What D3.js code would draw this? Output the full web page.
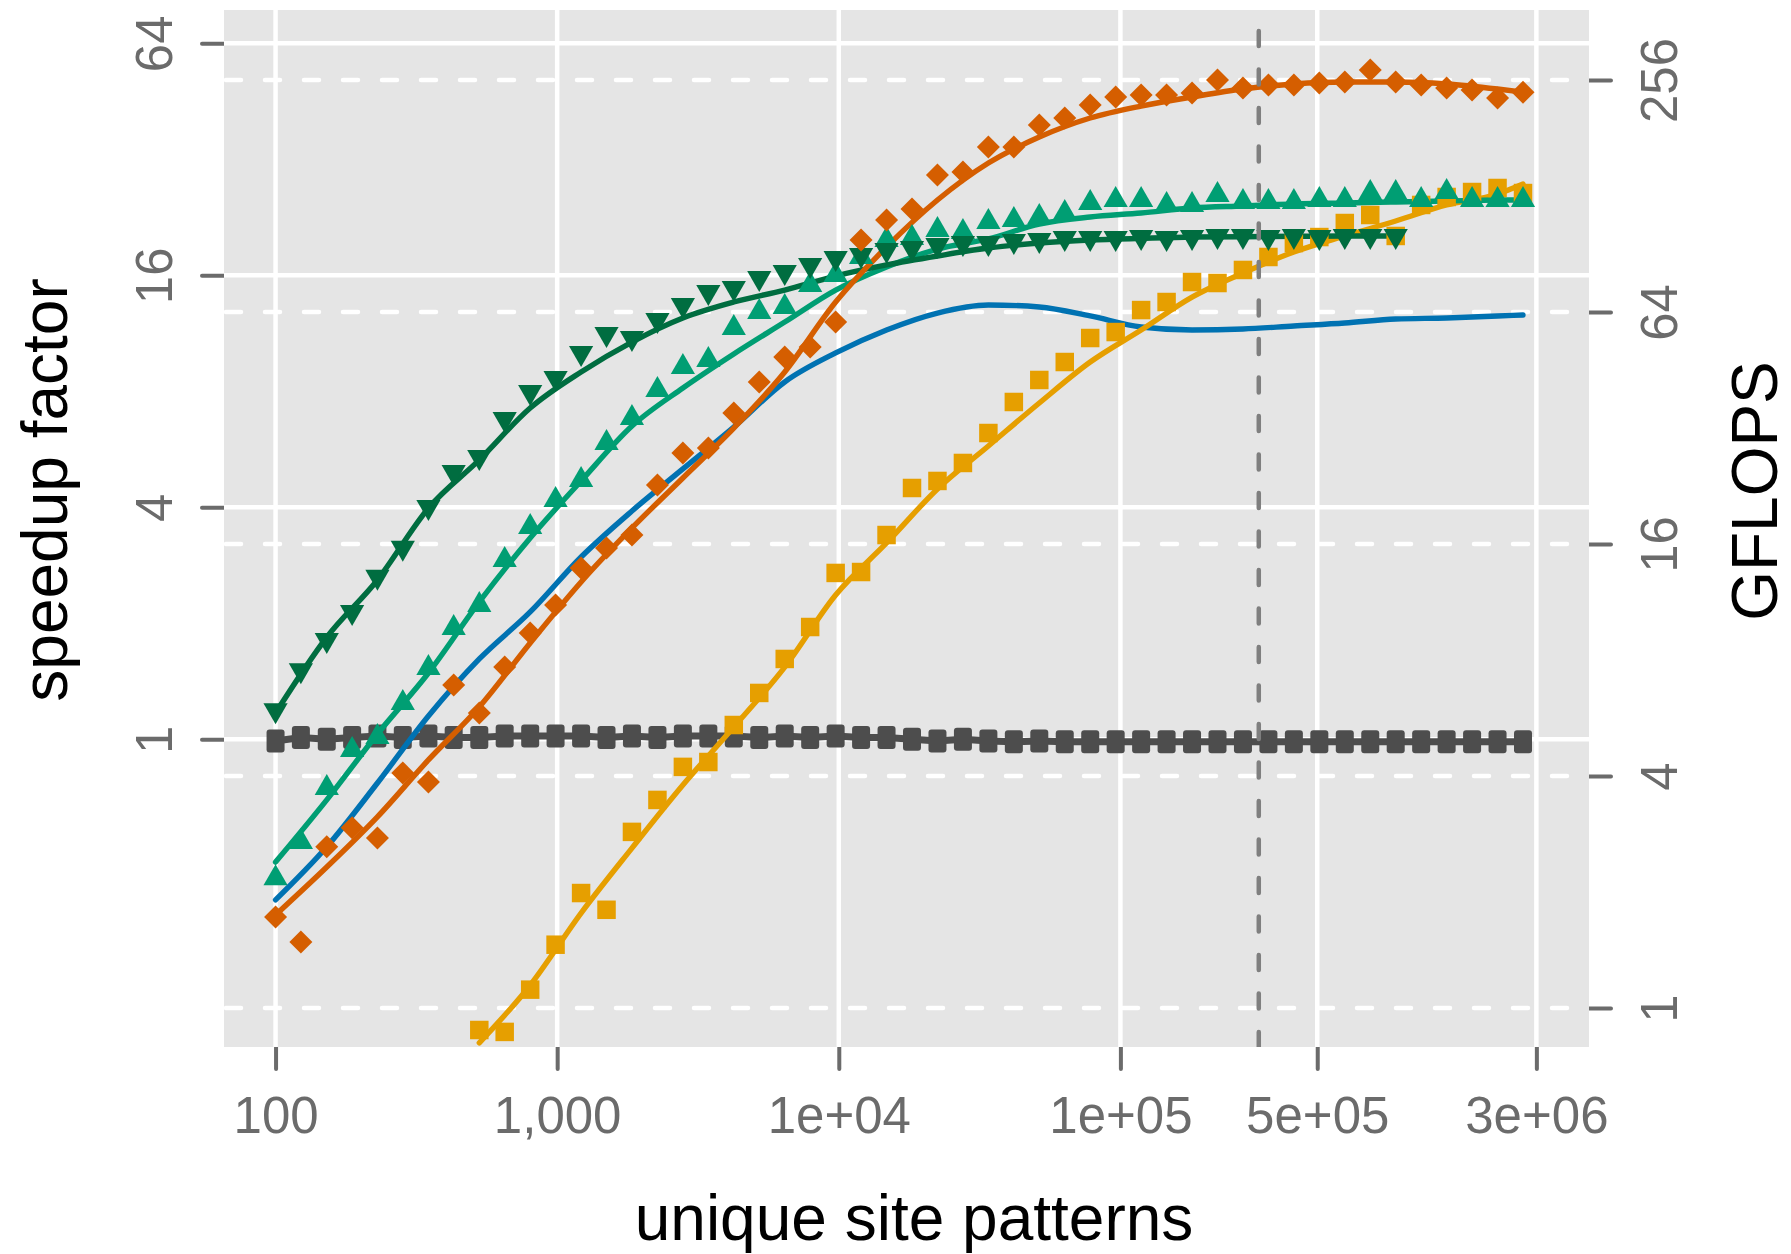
<!DOCTYPE html>
<html>
<head>
<meta charset="utf-8">
<script src="https://cdn.jsdelivr.net/npm/d3@7"></script>
<style>
  body { margin: 0; background: #fff; }
  text { font-family: "Liberation Sans", Arial, Helvetica, sans-serif; }
</style>
</head>
<body>
<div id="chart"></div>
<script>
// unique site patterns (x) shared by every series
var sitePatterns = [100, 123, 152, 187, 230, 283, 349, 429, 529, 651, 802, 987, 1216, 1497, 1843,
  2270, 2795, 3442, 4238, 5219, 6427, 7914, 9746, 12000, 14777, 18197, 22408, 27594, 33979, 41843,
  51523, 63445, 78125, 96206, 118468, 145881, 179636, 221203, 272397, 335427, 413048, 508634,
  626333, 771282, 949750, 1169500, 1440200, 1773500, 2183900, 2689300];

// x positions of the smoothed curves
var fitPatterns = [100, 152, 230, 349, 529, 802, 1216, 1843, 2795, 4238, 6427, 9746, 14777, 22408,
  33979, 51523, 78125, 118468, 179636, 272397, 413048, 626333, 949750, 1440200, 2183900, 2689300];

// speedup factor, measured points
var greyPoints = [0.99, 1.01, 1.0, 1.01, 1.02, 1.01, 1.02, 1.01, 1.01, 1.02, 1.02, 1.02, 1.02, 1.01,
  1.02, 1.01, 1.02, 1.02, 1.02, 1.01, 1.02, 1.01, 1.02, 1.01, 1.01, 1.0, 0.99, 1.0, 0.99, 0.985,
  0.99, 0.985, 0.985, 0.985, 0.985, 0.985, 0.985, 0.985, 0.985, 0.985, 0.985, 0.985, 0.985, 0.985,
  0.985, 0.985, 0.985, 0.985, 0.985, 0.985];

var orangePoints = [0.346, 0.298, 0.526, 0.589, 0.554, 0.818, 0.775, 1.383, 1.17, 1.54, 1.887, 2.231,
  2.783, 3.137, 3.389, 4.57, 5.53, 5.7, 7.03, 8.46, 9.82, 10.43, 12.1, 19.76, 22.27, 23.78, 29.14,
  29.66, 34.44, 34.44, 39.28, 40.96, 44.26, 46.43, 46.98, 46.98, 47.56, 51.4, 49.0, 49.9, 49.9,
  50.5, 50.8, 54.6, 50.8, 49.9, 49.0, 48.4, 46.15, 47.8];

var yellowPoints = [null, null, null, null, null, null, null, null, 0.176, 0.174, 0.224, 0.293, 0.399,
  0.361, 0.575, 0.696, 0.848, 0.873, 1.089, 1.319, 1.616, 1.956, 2.702, 2.717, 3.389, 4.489, 4.682,
  5.213, 6.235, 7.505, 8.56, 9.53, 11.0, 11.4, 13.0, 13.64, 15.37, 15.28, 16.52, 17.85, 19.4, 20.11,
  21.87, 22.94, 20.24, 24.36, 25.55, 26.32, 26.96, 26.16];

var greenPoints = [0.436, 0.541, 0.747, 0.938, 1.014, 1.242, 1.531, 1.945, 2.231, 2.92, 3.556, 4.178,
  4.709, 5.874, 6.82, 8.06, 9.25, 9.65, 11.68, 12.85, 13.24, 15.1, 16.03, 17.85, 19.76, 20.0, 20.98,
  20.72, 22.0, 22.27, 22.67, 23.22, 24.65, 25.09, 25.09, 24.36, 24.36, 25.85, 24.8, 24.8, 24.8,
  25.09, 25.09, 26.16, 26.16, 25.09, 26.32, 25.09, 25.09, 25.09];

var darkGreenPoints = [1.19, 1.51, 1.81, 2.14, 2.64, 3.14, 4.01, 4.94, 5.4, 6.78, 7.97, 8.66, 10.06,
  11.27, 11.0, 12.25, 13.4, 14.48, 14.83, 15.75, 16.32, 17.02, 17.74, 18.06, 18.61, 18.83, 19.17,
  19.4, 19.4, 19.64, 19.76, 20.0, 20.0, 20.0, 20.11, 20.0, 20.11, 20.24, 20.24, 20.11, 20.24, 20.11,
  20.24, 20.24, 20.24, null, null, null, null, null];

// speedup factor, smoothed curves (at fitPatterns)
var blueFit = [0.383, 0.526, 0.77, 1.149, 1.616, 2.14, 2.972, 3.912, 5.03, 6.46, 8.46, 10.06, 11.54,
  12.77, 13.4, 13.24, 12.55, 11.75, 11.54, 11.61, 11.82, 12.03, 12.32, 12.4, 12.55, 12.62];
var orangeFit = [0.35, 0.466, 0.629, 0.884, 1.213, 1.778, 2.56, 3.535, 4.766, 6.42, 8.98, 13.64, 18.95,
  25.09, 31.3, 36.56, 40.96, 43.99, 46.43, 48.7, 50.2, 50.8, 50.8, 50.2, 48.7, 47.8];
var yellowFit = [null, null, null, null, 0.163, 0.23, 0.354, 0.522, 0.761, 1.076, 1.54, 2.369, 3.232,
  4.463, 5.77, 7.46, 9.53, 11.54, 14.05, 16.22, 18.39, 20.24, 22.13, 24.36, 26.0, 27.6];
var greenFit = [0.48, 0.696, 1.032, 1.486, 2.272, 3.329, 4.682, 6.5, 8.16, 10.0, 12.1, 14.65, 16.82,
  18.72, 19.88, 21.74, 22.67, 23.22, 23.92, 24.21, 24.5, 24.65, 24.8, 24.95, 25.09, 25.09];
var darkGreenFit = [1.17, 1.84, 2.59, 3.98, 5.31, 7.24, 8.98, 10.74, 12.4, 13.64, 14.65, 15.93, 17.02,
  17.96, 18.83, 19.4, 19.75, 19.95, 20.11, 20.15, 20.2, 20.24, 20.24, null, null, null];

// axes
var xTicks = [100, 1000, 1e4, 1e5, 5e5, 3e6];
var xTickLabels = ["100", "1,000", "1e+04", "1e+05", "5e+05", "3e+06"];
var speedupTicks = [1, 4, 16, 64];
var gflopsTicks = [1, 4, 16, 64, 256];
var gflopsPerSpeedup = 4.98;
var markerPatterns = 310000;

var W = 1791, H = 1254,
  panel = {left: 224, right: 1589, top: 10, bottom: 1047},
  tickLen = 22,
  tickColor = "#6b6b6b";

var svg = d3.select("#chart")
  .append("svg")
  .attr("width", W)
  .attr("height", H);

var x = d3.scaleLog()
    .domain([65.6, 4.613e6])
    .range([panel.left, panel.right]);

var y = d3.scaleLog().base(2)
    .domain([0.159, 78.1])
    .range([panel.bottom, panel.top]);

var y2 = d3.scaleLog().base(2)
    .domain([0.159 * gflopsPerSpeedup, 78.1 * gflopsPerSpeedup])
    .range([panel.bottom, panel.top]);

// axes first, the panel covers the inner ends of the ticks
function styleAxis(g) {
  g.select(".domain").remove();
  g.selectAll(".tick line")
    .attr("stroke", tickColor)
    .attr("stroke-width", 4)
    .attr("stroke-linecap", "round");
  g.selectAll(".tick text")
    .attr("fill", tickColor)
    .style("font-size", "51px");
}

svg.append("g")
    .attr("transform", "translate(0," + panel.bottom + ")")
    .call(d3.axisBottom(x).tickValues(xTicks)
      .tickFormat(function(d, i) { return xTickLabels[i]; })
      .tickSize(tickLen))
    .call(styleAxis)
  .selectAll(".tick text")
    .attr("y", 86)
    .attr("dy", 0);

svg.append("g")
    .attr("transform", "translate(" + panel.left + ",0)")
    .call(d3.axisLeft(y).tickValues(speedupTicks).tickFormat(d3.format("d")).tickSize(tickLen))
    .call(styleAxis)
  .selectAll(".tick text")
    .attr("x", 0)
    .attr("dy", 0)
    .attr("text-anchor", "middle")
    .attr("transform", "translate(-52,0) rotate(-90)");

svg.append("g")
    .attr("transform", "translate(" + panel.right + ",0)")
    .call(d3.axisRight(y2).tickValues(gflopsTicks).tickFormat(d3.format("d")).tickSize(tickLen))
    .call(styleAxis)
  .selectAll(".tick text")
    .attr("x", 0)
    .attr("dy", 0)
    .attr("text-anchor", "middle")
    .attr("transform", "translate(88,0) rotate(-90)");

// panel
svg.append("rect")
    .attr("x", panel.left)
    .attr("y", panel.top)
    .attr("width", panel.right - panel.left)
    .attr("height", panel.bottom - panel.top)
    .attr("fill", "#e5e5e5");

svg.append("clipPath")
    .attr("id", "clip")
  .append("rect")
    .attr("x", panel.left)
    .attr("y", panel.top)
    .attr("width", panel.right - panel.left)
    .attr("height", panel.bottom - panel.top);

var g = svg.append("g").attr("clip-path", "url(#clip)");

// grid
g.selectAll(".vgrid")
  .data(xTicks)
  .enter().append("line")
    .attr("x1", x).attr("x2", x)
    .attr("y1", panel.top).attr("y2", panel.bottom)
    .attr("stroke", "#fff")
    .attr("stroke-width", 4.5);

g.selectAll(".hgrid")
  .data(speedupTicks)
  .enter().append("line")
    .attr("x1", panel.left).attr("x2", panel.right)
    .attr("y1", y).attr("y2", y)
    .attr("stroke", "#fff")
    .attr("stroke-width", 4.5);

g.selectAll(".hgrid2")
  .data(gflopsTicks)
  .enter().append("line")
    .attr("x1", panel.left + 2).attr("x2", panel.right)
    .attr("y1", y2).attr("y2", y2)
    .attr("stroke", "#fff")
    .attr("stroke-width", 4.5)
    .attr("stroke-linecap", "round")
    .attr("stroke-dasharray", "15,24");

// series
function pairs(xs, ys) {
  return xs.map(function(d, i) { return [d, ys[i]]; });
}

var line = d3.line()
    .defined(function(d) { return d[1] != null; })
    .x(function(d) { return x(d[0]); })
    .y(function(d) { return y(d[1]); });

var smooth = d3.line()
    .defined(function(d) { return d[1] != null; })
    .curve(d3.curveMonotoneX)
    .x(function(d) { return x(d[0]); })
    .y(function(d) { return y(d[1]); });

function drawPoints(values, color, shape) {
  g.append("g")
    .selectAll("path")
    .data(pairs(sitePatterns, values).filter(function(d) { return d[1] != null; }))
    .enter().append("path")
      .attr("transform", function(d) { return "translate(" + x(d[0]) + "," + y(d[1]) + ")"; })
      .attr("d", shape)
      .attr("fill", color);
}

var shapes = {
  grey: "M-9,-8.5 Q-9,-11.5 -6,-11.5 L6,-11.5 Q9,-11.5 9,-8.5 L9,8.5 Q9,11.5 6,11.5 L-6,11.5 Q-9,11.5 -9,8.5 Z",
  square: "M-9.25,-9.25 L9.25,-9.25 L9.25,9.25 L-9.25,9.25 Z",
  diamond: "M0,-11.5 L11.5,0 L0,11.5 L-11.5,0 Z",
  up: "M0,-14 L12.1,7 L-12.1,7 Z",
  down: "M0,14 L12.1,-7 L-12.1,-7 Z"
};

// reference series (speedup 1)
g.append("path")
    .datum(pairs(sitePatterns, greyPoints))
    .attr("d", line)
    .attr("fill", "none")
    .attr("stroke", "#4d4d4d")
    .attr("stroke-width", 7);
drawPoints(greyPoints, "#4d4d4d", shapes.grey);

var fits = [
  {values: blueFit, color: "#0072b2"},
  {values: yellowFit, color: "#e69f00"},
  {values: greenFit, color: "#009e73"},
  {values: darkGreenFit, color: "#006d40"},
  {values: orangeFit, color: "#d55e00"}
];

fits.forEach(function(s) {
  g.append("path")
      .datum(pairs(fitPatterns, s.values))
      .attr("d", smooth)
      .attr("fill", "none")
      .attr("stroke", s.color)
      .attr("stroke-width", 5.4)
      .attr("stroke-linecap", "round")
      .attr("stroke-linejoin", "round");
});

drawPoints(yellowPoints, "#e69f00", shapes.square);
drawPoints(greenPoints, "#009e73", shapes.up);
drawPoints(darkGreenPoints, "#006d40", shapes.down);
drawPoints(orangePoints, "#d55e00", shapes.diamond);

// vertical marker
g.append("line")
    .attr("x1", x(markerPatterns)).attr("x2", x(markerPatterns))
    .attr("y1", panel.bottom).attr("y2", panel.top)
    .attr("stroke", "#7f7f7f")
    .attr("stroke-width", 4.5)
    .attr("stroke-linecap", "round")
    .attr("stroke-dasharray", "15,23.5");

// titles
svg.append("text")
    .attr("x", 914)
    .attr("y", 1240)
    .attr("text-anchor", "middle")
    .style("font-size", "64px")
    .attr("fill", "#000")
    .text("unique site patterns");

svg.append("text")
    .attr("transform", "translate(67,490) rotate(-90)")
    .attr("text-anchor", "middle")
    .style("font-size", "64px")
    .attr("fill", "#000")
    .text("speedup factor");

svg.append("text")
    .attr("transform", "translate(1777,491) rotate(-90)")
    .attr("text-anchor", "middle")
    .style("font-size", "64px")
    .attr("fill", "#000")
    .text("GFLOPS");
</script>
</body>
</html>
